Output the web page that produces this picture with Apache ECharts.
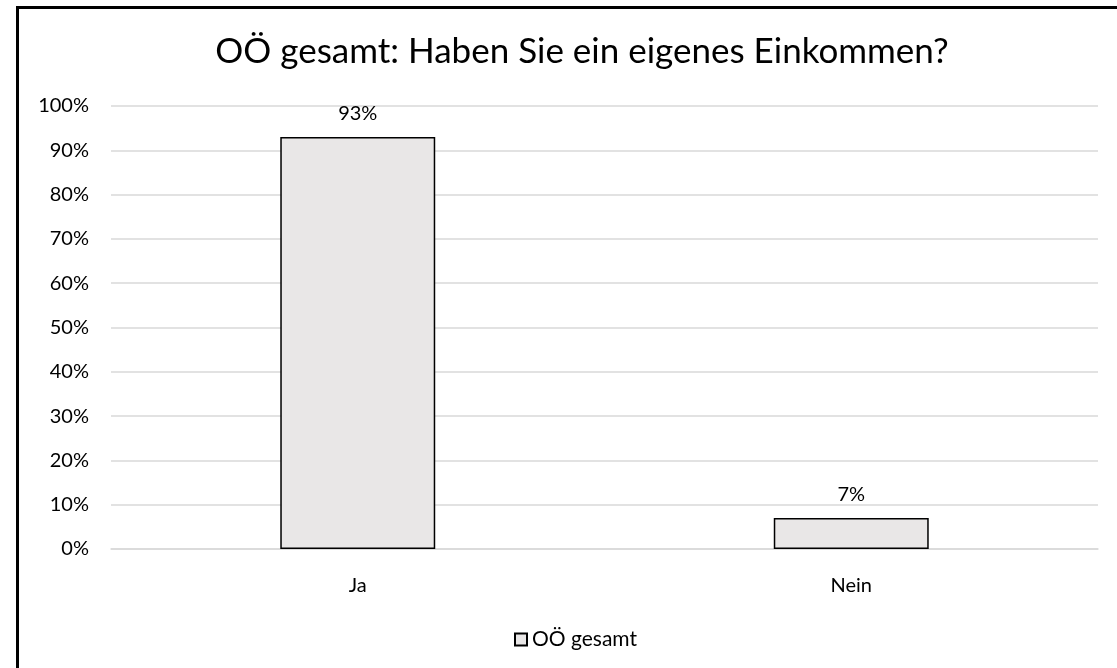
<!DOCTYPE html>
<html>
<head>
    <meta charset="utf-8">
    <title>OÖ gesamt</title>
    <style>
        html, body { margin: 0; padding: 0; background: #fff; overflow: hidden; }
        #frame { position: absolute; left: 16px; top: 6px; width: 1200px; height: 800px; border: 3px solid #000; pointer-events: none; }
    </style>
</head>
<body>
<div id="chart" style="width: 1117px; height: 668px;"></div>
<div id="frame"></div>
<script src="https://cdn.jsdelivr.net/npm/echarts@6/dist/echarts.min.js"></script>
<script>
    var categories = ['Ja', 'Nein'];
    var values = [93, 7];
    var seriesName = 'OÖ gesamt';
    var titleText = 'OÖ gesamt: Haben Sie ein eigenes Einkommen?';

    var font = 'Lato, "Open Sans", sans-serif';
    var myChart = echarts.init(document.getElementById('chart'));
    var option = {
        animation: false,
        title: {
            text: titleText,
            left: 577,
            textAlign: 'center',
            top: 29,
            textStyle: {fontFamily: font, fontSize: 35, fontWeight: 'normal', color: '#000'}
        },
        legend: {
            data: [seriesName],
            left: 509,
            top: 624,
            icon: 'rect',
            itemWidth: 12,
            itemHeight: 12,
            itemGap: 6,
            textStyle: {fontFamily: font, fontSize: 21, color: '#000'}
        },
        grid: {
            left: 111,
            right: 19,
            top: 106,
            bottom: 119
        },
        xAxis: {
            type: 'category',
            data: categories,
            axisTick: {show: false},
            axisLine: {lineStyle: {color: '#d9d9d9', width: 1.5}},
            axisLabel: {fontFamily: font, fontSize: 20, color: '#000', margin: 27}
        },
        yAxis: {
            type: 'value',
            min: 0,
            max: 100,
            interval: 10,
            axisLabel: {formatter: '{value}%', fontFamily: font, fontSize: 20, color: '#000', margin: 22},
            splitLine: {lineStyle: {color: '#d9d9d9', width: 1.5}},
            axisLine: {show: false},
            axisTick: {show: false}
        },
        series: [
            {
                name: seriesName,
                type: 'bar',
                data: values,
                barWidth: '31.4%',
                itemStyle: {color: '#e9e7e7', borderColor: '#000', borderWidth: 1.5},
                label: {
                    show: true,
                    position: 'top',
                    distance: 13,
                    formatter: '{c}%',
                    fontFamily: font,
                    fontSize: 20,
                    color: '#000'
                }
            }
        ]
    };
    myChart.setOption(option);
</script>
</body>
</html>
